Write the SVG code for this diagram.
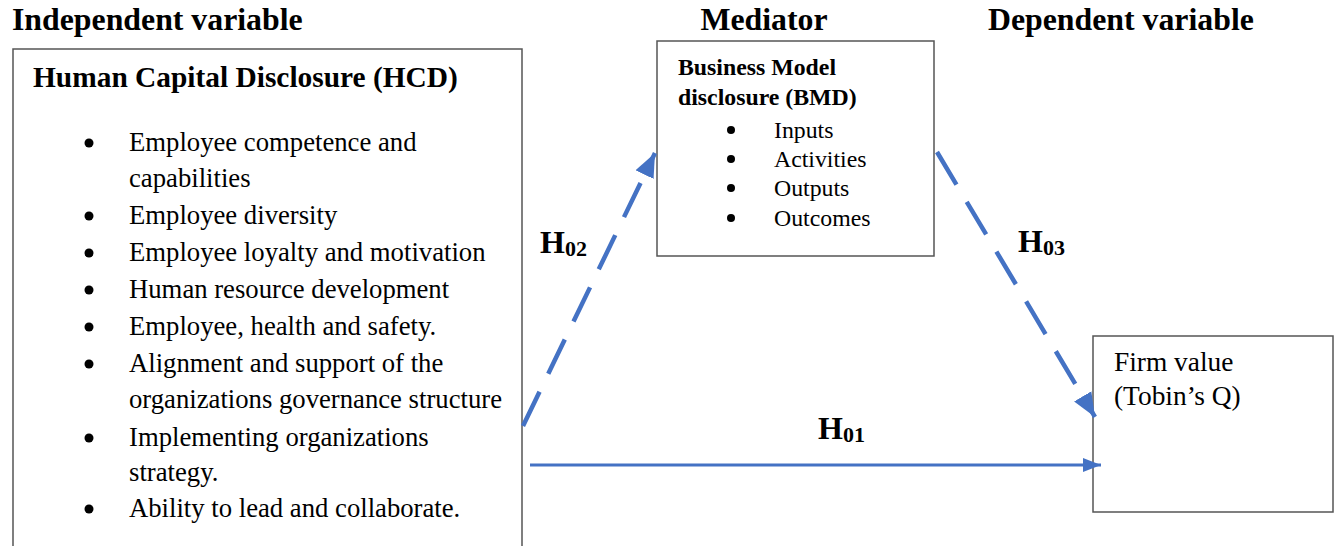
<svg xmlns="http://www.w3.org/2000/svg" width="1337" height="546" viewBox="0 0 1337 546">
<style>
text{font-family:"Liberation Serif","Times New Roman",serif;fill:#000}
.hd{font-size:31.8px;font-weight:bold}
.t{font-size:26.7px}
.ti{font-size:29.4px;font-weight:bold}
.s{font-size:23.8px}
.fv{font-size:27.4px}
.b{font-weight:bold}
.dot{fill:#000}
.box{fill:#fff;stroke:#555;stroke-width:1.5}
.con{stroke:#4472C4;fill:none}
.h{font-size:32px;font-weight:bold}
.sub{font-size:22px}
</style>
<defs>
<marker id="ah" markerUnits="userSpaceOnUse" markerWidth="26" markerHeight="26" viewBox="0 0 26 26" refX="24" refY="13" orient="auto">
<path d="M0,3 L24,13 L0,23 Z" fill="#4472C4"/>
</marker>
<marker id="ah2" markerUnits="userSpaceOnUse" markerWidth="20" markerHeight="20" viewBox="0 0 20 20" refX="18" refY="10" orient="auto">
<path d="M0,3 L18,10 L0,17 Z" fill="#4472C4"/>
</marker>
</defs>
<text class="hd" x="12" y="30">Independent variable</text>
<text class="hd" x="764" y="30" text-anchor="middle">Mediator</text>
<text class="hd" x="988" y="30">Dependent variable</text>
<g id="hcd">
<path class="box" d="M13,547 L13,49 L522,49 L522,547"/>
<text class="ti" x="33" y="87">Human Capital Disclosure (HCD)</text>
<g class="dot">
<circle cx="89" cy="143" r="4.5"/>
<circle cx="89" cy="216" r="4.5"/>
<circle cx="89" cy="253" r="4.5"/>
<circle cx="89" cy="290" r="4.5"/>
<circle cx="89" cy="327" r="4.5"/>
<circle cx="89" cy="364" r="4.5"/>
<circle cx="89" cy="438" r="4.5"/>
<circle cx="89" cy="509" r="4.5"/>
</g>
<g class="t">
<text x="129" y="151">Employee competence and</text>
<text x="129" y="187">capabilities</text>
<text x="129" y="224">Employee diversity</text>
<text x="129" y="261">Employee loyalty and motivation</text>
<text x="129" y="298">Human resource development</text>
<text x="129" y="335">Employee, health and safety.</text>
<text x="129" y="372">Alignment and support of the</text>
<text x="129" y="408">organizations governance structure</text>
<text x="129" y="446">Implementing organizations</text>
<text x="129" y="481">strategy.</text>
<text x="129" y="517">Ability to lead and collaborate.</text>
</g>
</g>
<g id="bmd">
<rect class="box" x="657" y="41" width="277" height="215"/>
<text class="s b" x="678" y="75">Business Model</text>
<text class="s b" x="678" y="105">disclosure (BMD)</text>
<g class="dot">
<circle cx="731" cy="130" r="4"/>
<circle cx="731" cy="159" r="4"/>
<circle cx="731" cy="188" r="4"/>
<circle cx="731" cy="218" r="4"/>
</g>
<g class="s">
<text x="774" y="138">Inputs</text>
<text x="774" y="167">Activities</text>
<text x="774" y="196">Outputs</text>
<text x="774" y="226">Outcomes</text>
</g>
</g>
<g id="fv">
<rect class="box" x="1093" y="336" width="240" height="176"/>
<text class="fv" x="1114" y="371">Firm value</text>
<text class="fv" x="1114" y="405">(Tobin’s Q)</text>
</g>
<g id="connectors">
<line class="con" x1="523" y1="426" x2="655" y2="153" stroke-width="4.5" stroke-dasharray="38 20" marker-end="url(#ah)"/>
<line class="con" x1="937" y1="152" x2="1095" y2="417" stroke-width="4.5" stroke-dasharray="38 20" marker-end="url(#ah)"/>
<line class="con" x1="530" y1="465" x2="1101" y2="465" stroke-width="3" marker-end="url(#ah2)"/>
</g>
<g id="labels">
<text class="h" x="540" y="253">H<tspan class="sub" dy="3">02</tspan></text>
<text class="h" x="1018" y="252">H<tspan class="sub" dy="3">03</tspan></text>
<text class="h" x="818" y="439">H<tspan class="sub" dy="3">01</tspan></text>
</g>
</svg>
